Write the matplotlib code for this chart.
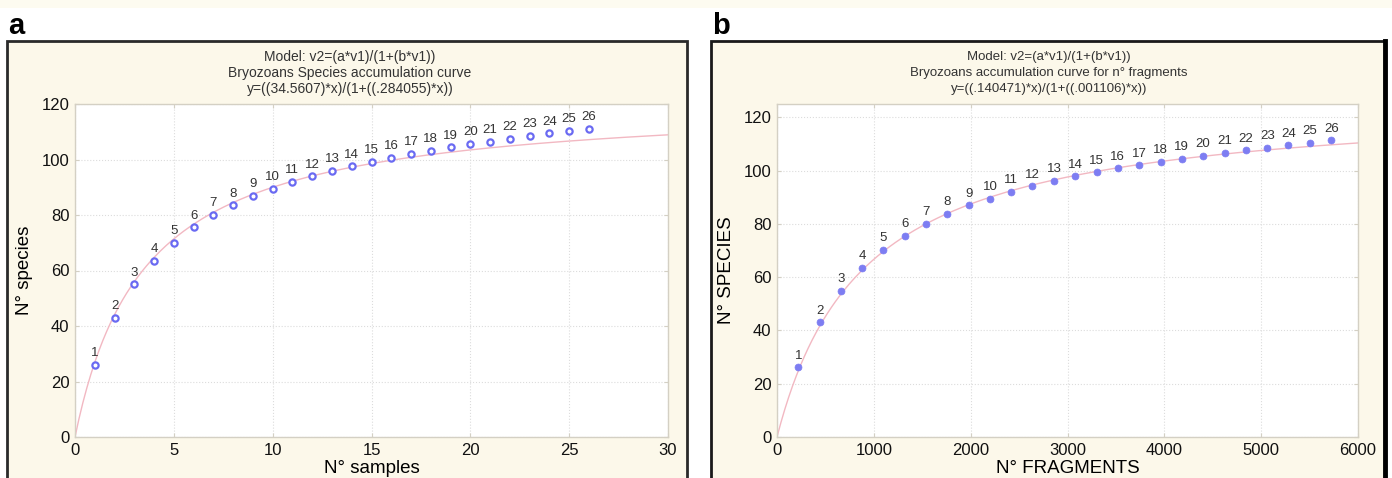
import numpy as np
import matplotlib.pyplot as plt
from matplotlib.patches import Rectangle

plt.rcParams['font.family'] = ['Liberation Sans', 'DejaVu Sans']

# Panel a: species accumulation vs samples
samples = list(range(1, 27))
species_a = [26, 43, 55, 63.5, 70, 75.5, 80, 83.5, 87, 89.5, 92, 94, 96,
             97.6, 99.2, 100.6, 102, 103.2, 104.4, 105.6, 106.4, 107.5,
             108.5, 109.4, 110.3, 111]

# Panel b: species accumulation vs fragments
fragments = [220, 444, 661, 881, 1098, 1322, 1539, 1756, 1980, 2200, 2417,
             2637, 2861, 3078, 3302, 3518, 3739, 3963, 4180, 4399, 4624,
             4841, 5064, 5281, 5501, 5725]
species_b = [26.1, 43, 54.8, 63.5, 70.2, 75.6, 80, 83.7, 86.9, 89.5, 92,
             94.1, 96.1, 97.8, 99.4, 100.8, 102, 103.4, 104.5, 105.6, 106.6,
             107.6, 108.6, 109.5, 110.4, 111.3]

# fitted model parameters, y = a*x / (1 + b*x), as printed on the chart
model_a = (34.5607, 0.284055)
model_b = (0.140471, 0.001106)

titles_a = ["Model: v2=(a*v1)/(1+(b*v1))",
            "Bryozoans Species accumulation curve",
            "y=((34.5607)*x)/(1+((.284055)*x))"]
titles_b = ["Model: v2=(a*v1)/(1+(b*v1))",
            "Bryozoans accumulation curve for n\u00b0 fragments",
            "y=((.140471)*x)/(1+((.001106)*x))"]

W, H = 1392, 478
fig = plt.figure(figsize=(W / 100, H / 100), dpi=100)
fig.patch.set_facecolor('white')

cream = '#fcf8ea'


def px(x0, y0, x1, y1):
    # pixel box (top-left origin) -> figure fraction rect
    return [x0 / W, 1 - y1 / H, (x1 - x0) / W, (y1 - y0) / H]


# background strip and panel frames (behind the axes)
fig.patches.append(Rectangle((0, 1 - 8 / H), 1, 8 / H, transform=fig.transFigure,
                             facecolor='#fdfbf0', edgecolor='none', zorder=-5))
ra = px(7, 41, 687, 490)
fig.patches.append(Rectangle((ra[0], ra[1]), ra[2], ra[3], transform=fig.transFigure,
                             facecolor=cream, edgecolor='#2a2a2a', lw=2, zorder=-5))
rb = px(711, 41, 1385, 490)
fig.patches.append(Rectangle((rb[0], rb[1]), rb[2], rb[3], transform=fig.transFigure,
                             facecolor=cream, edgecolor='#1a1a1a', lw=2, zorder=-5))
fig.add_artist(plt.Line2D([1385 / W, 1385 / W], [0, 1 - 41 / H], transform=fig.transFigure,
                          color='black', lw=3.5, zorder=-4))

fig.text(8 / W, 1 - 26 / H, 'a', fontsize=21, fontweight='bold', va='center', ha='left')
fig.text(712 / W, 1 - 26 / H, 'b', fontsize=21, fontweight='bold', va='center', ha='left')

for i, line in enumerate(titles_a):
    fig.text(350 / W, 1 - (57 + 16 * i) / H, line, fontsize=10, color='#333333',
             ha='center', va='center')
for i, line in enumerate(titles_b):
    fig.text(1049 / W, 1 - (57 + 16 * i) / H, line, fontsize=9.5, color='#333333',
             ha='center', va='center')


def style_axes(ax):
    ax.set_zorder(2)
    ax.set_facecolor('white')
    for s in ax.spines.values():
        s.set_color('#d4d0c4')
        s.set_linewidth(1)
    ax.grid(True, color='#dcdcdc', linestyle=':', linewidth=0.8)
    ax.tick_params(direction='in', length=3, color='#d4d0c4', labelsize=12,
                   labelcolor='#111111', top=True, right=True, pad=4)
    ax.set_axisbelow(True)


# panel a
ax1 = fig.add_axes(px(75, 104, 668, 437))
style_axes(ax1)
xa = np.linspace(0, 30, 300)
ax1.plot(xa, model_a[0] * xa / (1 + model_a[1] * xa), color='#f2b8c2', lw=1, zorder=2)
ax1.plot(samples, species_a, 'o', ms=4.5, mfc='white', mec='#6a6af2', mew=1.6, zorder=3)
for n, (x, y) in enumerate(zip(samples, species_a), start=1):
    ax1.annotate(str(n), (x, y), xytext=(0, 4), textcoords='offset points',
                 ha='center', va='bottom', fontsize=9.5, color='#333333')
ax1.set_xlim(0, 30)
ax1.set_ylim(0, 120)
ax1.set_xticks([0, 5, 10, 15, 20, 25, 30])
ax1.set_yticks([0, 20, 40, 60, 80, 100, 120])
ax1.set_xlabel('N\u00b0 samples', fontsize=13.5, labelpad=2)
ax1.set_ylabel('N\u00b0 species', fontsize=13.5, labelpad=6)

# panel b
ax2 = fig.add_axes(px(777, 104, 1358, 437))
style_axes(ax2)
xb = np.linspace(0, 6000, 300)
ax2.plot(xb, model_b[0] * xb / (1 + model_b[1] * xb), color='#f2b8c2', lw=1, zorder=2)
ax2.plot(fragments, species_b, 'o', ms=5, mfc='#7d7df2', mec='#7d7df2', mew=0.5, zorder=3)
for n, (x, y) in enumerate(zip(fragments, species_b), start=1):
    ax2.annotate(str(n), (x, y), xytext=(0, 4), textcoords='offset points',
                 ha='center', va='bottom', fontsize=9.5, color='#333333')
ax2.set_xlim(0, 6000)
ax2.set_ylim(0, 125)
ax2.set_xticks([0, 1000, 2000, 3000, 4000, 5000, 6000])
ax2.set_yticks([0, 20, 40, 60, 80, 100, 120])
ax2.set_xlabel('N\u00b0 FRAGMENTS', fontsize=13.5, labelpad=2)
ax2.set_ylabel('N\u00b0 SPECIES', fontsize=13.5, labelpad=6)

fig.savefig('out.png', dpi=100)
